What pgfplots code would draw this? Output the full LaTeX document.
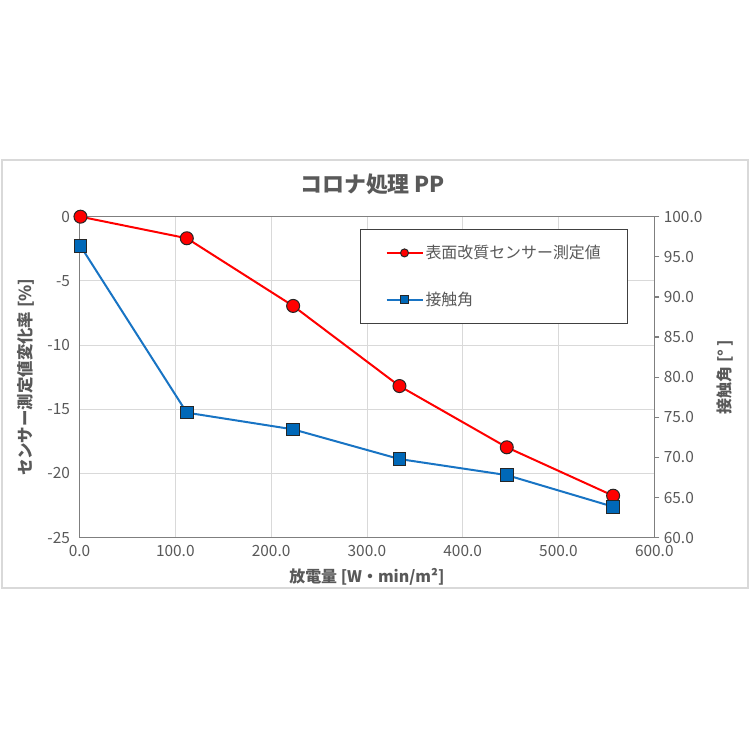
\documentclass[border=0pt]{standalone}
\usepackage{fontspec}
\setmainfont{Noto Sans CJK JP}
\usepackage{pgfplots}
\pgfplotsset{compat=1.18}
\definecolor{txtgray}{HTML}{595959}
\definecolor{axgray}{HTML}{7F7F7F}
\definecolor{gridgray}{HTML}{D9D9D9}
\definecolor{bordergray}{HTML}{D9D9D9}
\definecolor{legendgray}{HTML}{404040}
\definecolor{myred}{HTML}{FF0000}
\definecolor{mybluel}{HTML}{1874C4}
\definecolor{mybluef}{HTML}{0068B8}
\pgfplotsset{
  redstyle/.style={color=myred, line width=2bp, mark=*, mark size=6.5bp,
    mark options={fill=myred, draw=black!85, line width=1bp}},
  bluestyle/.style={color=mybluel, line width=2bp, mark=square*, mark size=6.3bp,
    mark options={fill=mybluef, draw=black!85, line width=1bp}},
}
\begin{document}
\begin{tikzpicture}[x=1bp,y=1bp]
\useasboundingbox (0,0) rectangle (750,750);
\fill[white] (0,0) rectangle (750,750);
\draw[bordergray, line width=2bp] (2,162) rectangle (748,590);
\begin{axis}[
  at={(79.5bp,212.3bp)}, anchor=south west,
  scale only axis, width=574.8bp, height=321bp,
  xmin=0, xmax=600, ymin=-25, ymax=0,
  xtick={0,100,200,300,400,500,600},
  xticklabels={0.0,100.0,200.0,300.0,400.0,500.0,600.0},
  ytick={-25,-20,-15,-10,-5,0},
  yticklabels={-25,-20,-15,-10,-5,0},
  grid=major, grid style={draw=gridgray, line width=0.8bp},
  axis line style={draw=axgray, line width=1.5bp},
  major tick length=0pt, tick style={draw=none},
  ticklabel style={font=\fontsize{15.5}{17}\selectfont, text=txtgray},
  yticklabel style={xshift=-6bp},
  xticklabel style={yshift=-4bp},
  title={コロナ処理 PP},
  title style={at={(axis description cs:0.51,1.083)}, anchor=center,
    font=\bfseries\fontsize{22}{26}\selectfont, text=txtgray},
  xlabel={放電量 [W・min/m²]},
  xlabel style={at={(axis description cs:0.5,-0.122)}, anchor=center,
    font=\bfseries\fontsize{16}{18}\selectfont, text=txtgray},
  ylabel={センサー測定値変化率 [\%]},
  ylabel style={at={(axis description cs:-0.093,0.5)}, anchor=center,
    font=\bfseries\fontsize{16.5}{18}\selectfont, text=txtgray},
]
\addplot[redstyle] coordinates {(1,0) (112,-1.68) (223,-6.95) (334,-13.19) (446,-17.96) (557,-21.73)};
\end{axis}
\begin{axis}[
  at={(79.5bp,212.3bp)}, anchor=south west,
  scale only axis, width=574.8bp, height=321bp,
  xmin=0, xmax=600, ymin=60, ymax=100,
  axis x line=none, axis y line*=right,
  ytick={60,65,70,75,80,85,90,95,100},
  yticklabels={60.0,65.0,70.0,75.0,80.0,85.0,90.0,95.0,100.0},
  axis line style={draw=axgray, line width=1.5bp, -},
  tick align=outside, major tick length=5bp,
  tick style={draw=axgray, line width=1.2bp},
  ticklabel style={font=\fontsize{15.5}{17}\selectfont, text=txtgray},
  yticklabel style={xshift=1bp},
  ylabel={接触角 [°\,]},
  ylabel style={at={(axis description cs:1.123,0.5)}, anchor=center,
    font=\bfseries\fontsize{16}{18}\selectfont, text=txtgray},
  legend cell align=left,
  legend image code/.code={\draw[#1, mark size=4bp, mark repeat=2, mark phase=2] plot coordinates {(0bp,0bp) (18bp,0bp) (36bp,0bp)};},
  legend style={at={(axis description cs:0.488,0.9617)}, anchor=north west,
    draw=legendgray, line width=1bp, fill=white, inner xsep=25bp, inner ysep=14bp,
    row sep=28bp, font=\fontsize{16}{18}\selectfont, text=txtgray},
]
\addlegendimage{redstyle}
\addlegendentry{表面改質センサー測定値}
\addplot[bluestyle] coordinates {(1,96.35) (112,75.58) (223,73.5) (334,69.8) (446,67.8) (557,63.86)};
\addlegendentry{接触角}
\end{axis}
\end{tikzpicture}
\end{document}
